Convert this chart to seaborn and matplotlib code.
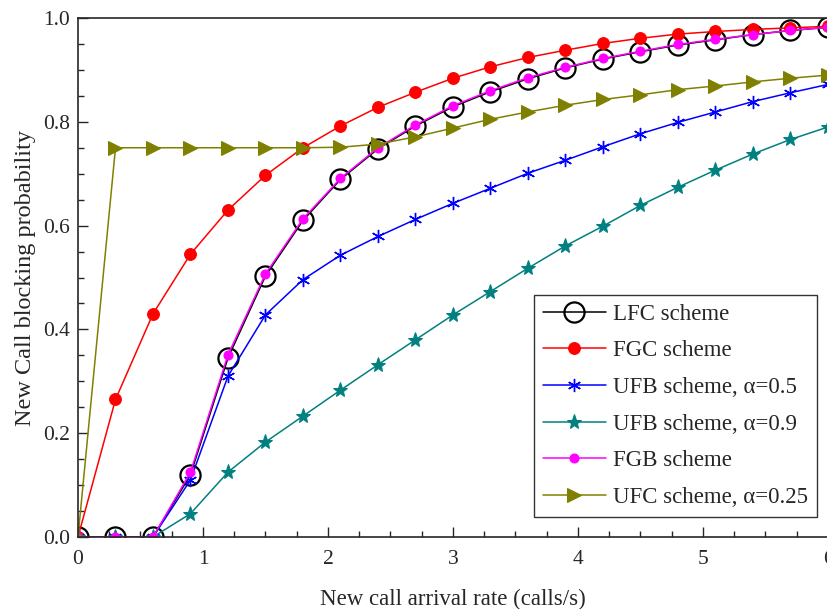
import numpy as np
import pandas as pd
import matplotlib
matplotlib.use("Agg")
import matplotlib.pyplot as plt
import seaborn as sns
from matplotlib.ticker import MultipleLocator

# arrival rate (calls/s)
rate = [0.0, 0.3, 0.6, 0.9, 1.2, 1.5, 1.8, 2.1, 2.4, 2.7, 3.0,
        3.3, 3.6, 3.9, 4.2, 4.5, 4.8, 5.1, 5.4, 5.7, 6.0]

lfc = [0.0, 0.0, 0.0, 0.120, 0.345, 0.503, 0.610, 0.689, 0.748, 0.792, 0.829,
       0.858, 0.883, 0.904, 0.921, 0.935, 0.948, 0.958, 0.968, 0.976, 0.982]
fgc = [0.0, 0.265, 0.430, 0.545, 0.630, 0.697, 0.750, 0.792, 0.828, 0.857, 0.884,
       0.906, 0.924, 0.938, 0.951, 0.961, 0.969, 0.974, 0.978, 0.981, 0.984]
ufb_05 = [0.0, 0.0, 0.0, 0.110, 0.310, 0.428, 0.496, 0.543, 0.579, 0.612, 0.643,
          0.672, 0.701, 0.726, 0.752, 0.777, 0.799, 0.819, 0.839, 0.856, 0.872]
ufb_09 = [0.0, 0.0, 0.0, 0.045, 0.125, 0.183, 0.233, 0.283, 0.332, 0.380, 0.428,
          0.473, 0.518, 0.561, 0.599, 0.639, 0.674, 0.707, 0.738, 0.766, 0.790]
fgb = [0.0, 0.0, 0.0, 0.125, 0.351, 0.507, 0.613, 0.691, 0.750, 0.794, 0.831,
       0.860, 0.885, 0.905, 0.922, 0.936, 0.949, 0.959, 0.968, 0.976, 0.982]
ufc_025 = [0.0, 0.750, 0.750, 0.750, 0.750, 0.750, 0.750, 0.751, 0.757, 0.771, 0.788,
           0.805, 0.819, 0.832, 0.843, 0.852, 0.862, 0.869, 0.877, 0.884, 0.890]

labels = ["LFC scheme", "FGC scheme", "UFB scheme, \u03b1=0.5",
          "UFB scheme, \u03b1=0.9", "FGB scheme", "UFC scheme, \u03b1=0.25"]

sns.set_style("ticks")
plt.rcParams['font.family'] = ['Liberation Serif', 'DejaVu Serif']
plt.rcParams['xtick.direction'] = 'in'
plt.rcParams['ytick.direction'] = 'in'

fig = plt.figure(figsize=(8.28, 6.09), dpi=100)
ax = fig.add_axes([78 / 828, 72 / 609, 750 / 828, 519 / 609])

styles = [
    (lfc, dict(color="black", marker="o", markersize=14.5, markerfacecolor="none",
               markeredgecolor="black", markeredgewidth=1.6)),
    (fgc, dict(color="red", marker="o", markersize=8.5, markeredgecolor="red")),
    (ufb_05, dict(color="blue", marker=(6, 2, 0), markersize=9.5,
                  markeredgecolor="blue", markeredgewidth=1.0)),
    (ufb_09, dict(color="teal", marker="*", markersize=11, markeredgecolor="teal")),
    (fgb, dict(color="magenta", marker="o", markersize=6.5, markeredgecolor="magenta")),
    (ufc_025, dict(color="olive", marker=">", markersize=10, markeredgecolor="olive")),
]

for (vals, kw), lab in zip(styles, labels):
    sns.lineplot(x=rate, y=vals, ax=ax, label=lab, linewidth=1.1, **kw)

ax.set_xlim(0, 6)
ax.set_ylim(0, 1.0)
ax.xaxis.set_major_locator(MultipleLocator(1))
ax.xaxis.set_minor_locator(MultipleLocator(0.25))
ax.yaxis.set_major_locator(MultipleLocator(0.2))
ax.yaxis.set_minor_locator(MultipleLocator(0.05))
ax.yaxis.set_major_formatter(matplotlib.ticker.FormatStrFormatter('%.1f'))
ax.tick_params(which='major', length=7, width=1, labelsize=15.5, pad=6)
ax.tick_params(which='minor', length=4, width=1)
ax.tick_params(axis='x', pad=9)
for s in ax.spines.values():
    s.set_linewidth(1.2)

ax.set_xlabel("New call arrival rate (calls/s)", fontsize=16.5, labelpad=15)
ax.set_ylabel("New Call blocking probability", fontsize=17.5, labelpad=5)

leg = ax.legend(loc="lower right", bbox_to_anchor=(0.985, 0.0385), fontsize=16.5,
                frameon=True, fancybox=False, edgecolor="black",
                handlelength=2.75, borderpad=0.4, labelspacing=0.68,
                handletextpad=0.3, borderaxespad=0)
leg.get_frame().set_linewidth(1.0)

fig.savefig("out.png", dpi=100)
